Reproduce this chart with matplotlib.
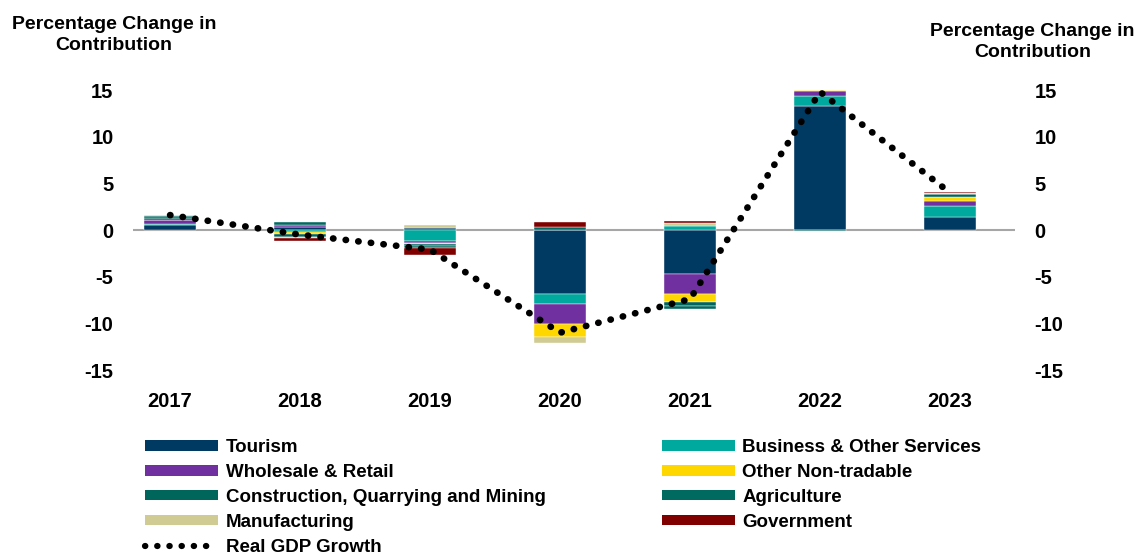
"""
Sector contributions to real GDP growth, 2017-2023.
"""

import matplotlib.pyplot as plt
import numpy as np
from matplotlib.lines import Line2D
from matplotlib.patches import Patch

plt.rcParams["font.family"] = ["Liberation Sans", "DejaVu Sans"]
plt.rcParams["font.weight"] = "bold"
plt.rcParams["axes.unicode_minus"] = False

years = ["2017", "2018", "2019", "2020", "2021", "2022", "2023"]

# percentage point contributions
tourism = [0.5, 0.35, 0.25, -6.9, -4.7, 13.3, 1.35]
business = [0.15, -0.2, -1.2, -1.0, 0.45, 1.05, 1.2]
wholesale = [0.4, 0.2, -0.15, -2.2, -2.15, 0.5, 0.6]
other_nt = [0.05, -0.2, -0.15, -1.35, -0.85, 0.15, 0.35]
construction = [0.2, -0.3, -0.25, 0.0, -0.4, -0.1, 0.35]
agriculture = [0.15, 0.3, -0.2, 0.3, -0.35, 0.0, 0.05]
manufacturing = [0.15, -0.15, 0.3, -0.7, 0.35, 0.0, 0.1]
government = [0.05, -0.35, -0.7, 0.55, 0.15, 0.05, 0.05]
gdp_growth = [1.6, -0.5, -2.1, -11.0, -7.4, 14.8, 4.0]

sectors = [
    ("Tourism", tourism, "#003A63"),
    ("Business & Other Services", business, "#00A99D"),
    ("Wholesale & Retail", wholesale, "#7030A0"),
    ("Other Non-tradable", other_nt, "#FFD700"),
    ("Construction, Quarrying and Mining", construction, "#00665C"),
    ("Agriculture", agriculture, "#006A60"),
    ("Manufacturing", manufacturing, "#D0CB93"),
    ("Government", government, "#800000"),
]

fig = plt.figure(figsize=(11.41, 5.55), dpi=100)
ax = fig.add_axes([0.1166, 0.3333, 0.773, 0.5045])
ax2 = ax.twinx()

x = np.arange(len(years))
pos_base = np.zeros(len(years))
neg_base = np.zeros(len(years))
for name, vals, color in sectors:
    v = np.array(vals)
    base = np.where(v >= 0, pos_base, neg_base)
    ax.bar(x, v, width=0.4, bottom=base, color=color, edgecolor="white",
           linewidth=0.3, zorder=2)
    pos_base += np.where(v >= 0, v, 0)
    neg_base += np.where(v < 0, v, 0)

ax.axhline(0, color="#A6A6A6", lw=1.5, zorder=1)
ax.plot(x, gdp_growth, color="black", lw=4.8, linestyle=(0, (0.05, 1.85)),
        dash_capstyle="round", zorder=3)

for a in (ax, ax2):
    a.set_ylim(-15, 15)
    a.set_yticks([-15, -10, -5, 0, 5, 10, 15])
    a.tick_params(length=0, labelsize=14.5)
    for s in a.spines.values():
        s.set_visible(False)
ax.set_xlim(-0.285, 6.5)
ax.set_xticks(x)
ax.set_xticklabels(years)
ax.tick_params(axis="x", pad=16)
ax.tick_params(axis="y", pad=14)
ax2.tick_params(axis="y", pad=14)

fig.text(0.1, 0.937, "Percentage Change in\nContribution", ha="center",
         va="center", fontsize=14, fontweight="bold", linespacing=1.35)
fig.text(0.905, 0.925, "Percentage Change in\nContribution", ha="center",
         va="center", fontsize=14, fontweight="bold", linespacing=1.3)

handles = {name: Patch(facecolor=color, label=name) for name, _, color in sectors}
gdp_handle = Line2D([], [], color="black", lw=4.5, linestyle=(0, (0.05, 1.9)),
                    dash_capstyle="round", label="Real GDP Growth")

left = [handles["Tourism"], handles["Wholesale & Retail"],
        handles["Construction, Quarrying and Mining"], handles["Manufacturing"],
        gdp_handle]
right = [handles["Business & Other Services"], handles["Other Non-tradable"],
         handles["Agriculture"], handles["Government"]]

leg_kw = dict(frameon=False, fontsize=13.5, handlelength=3.9, handleheight=0.5,
              labelspacing=0.42, handletextpad=0.4, borderpad=0, borderaxespad=0)
fig.legend(handles=left, loc="upper left", bbox_to_anchor=(0.127, 0.209), **leg_kw)
fig.legend(handles=right, loc="upper left", bbox_to_anchor=(0.58, 0.209), **leg_kw)

fig.savefig("out.png", dpi=100)
